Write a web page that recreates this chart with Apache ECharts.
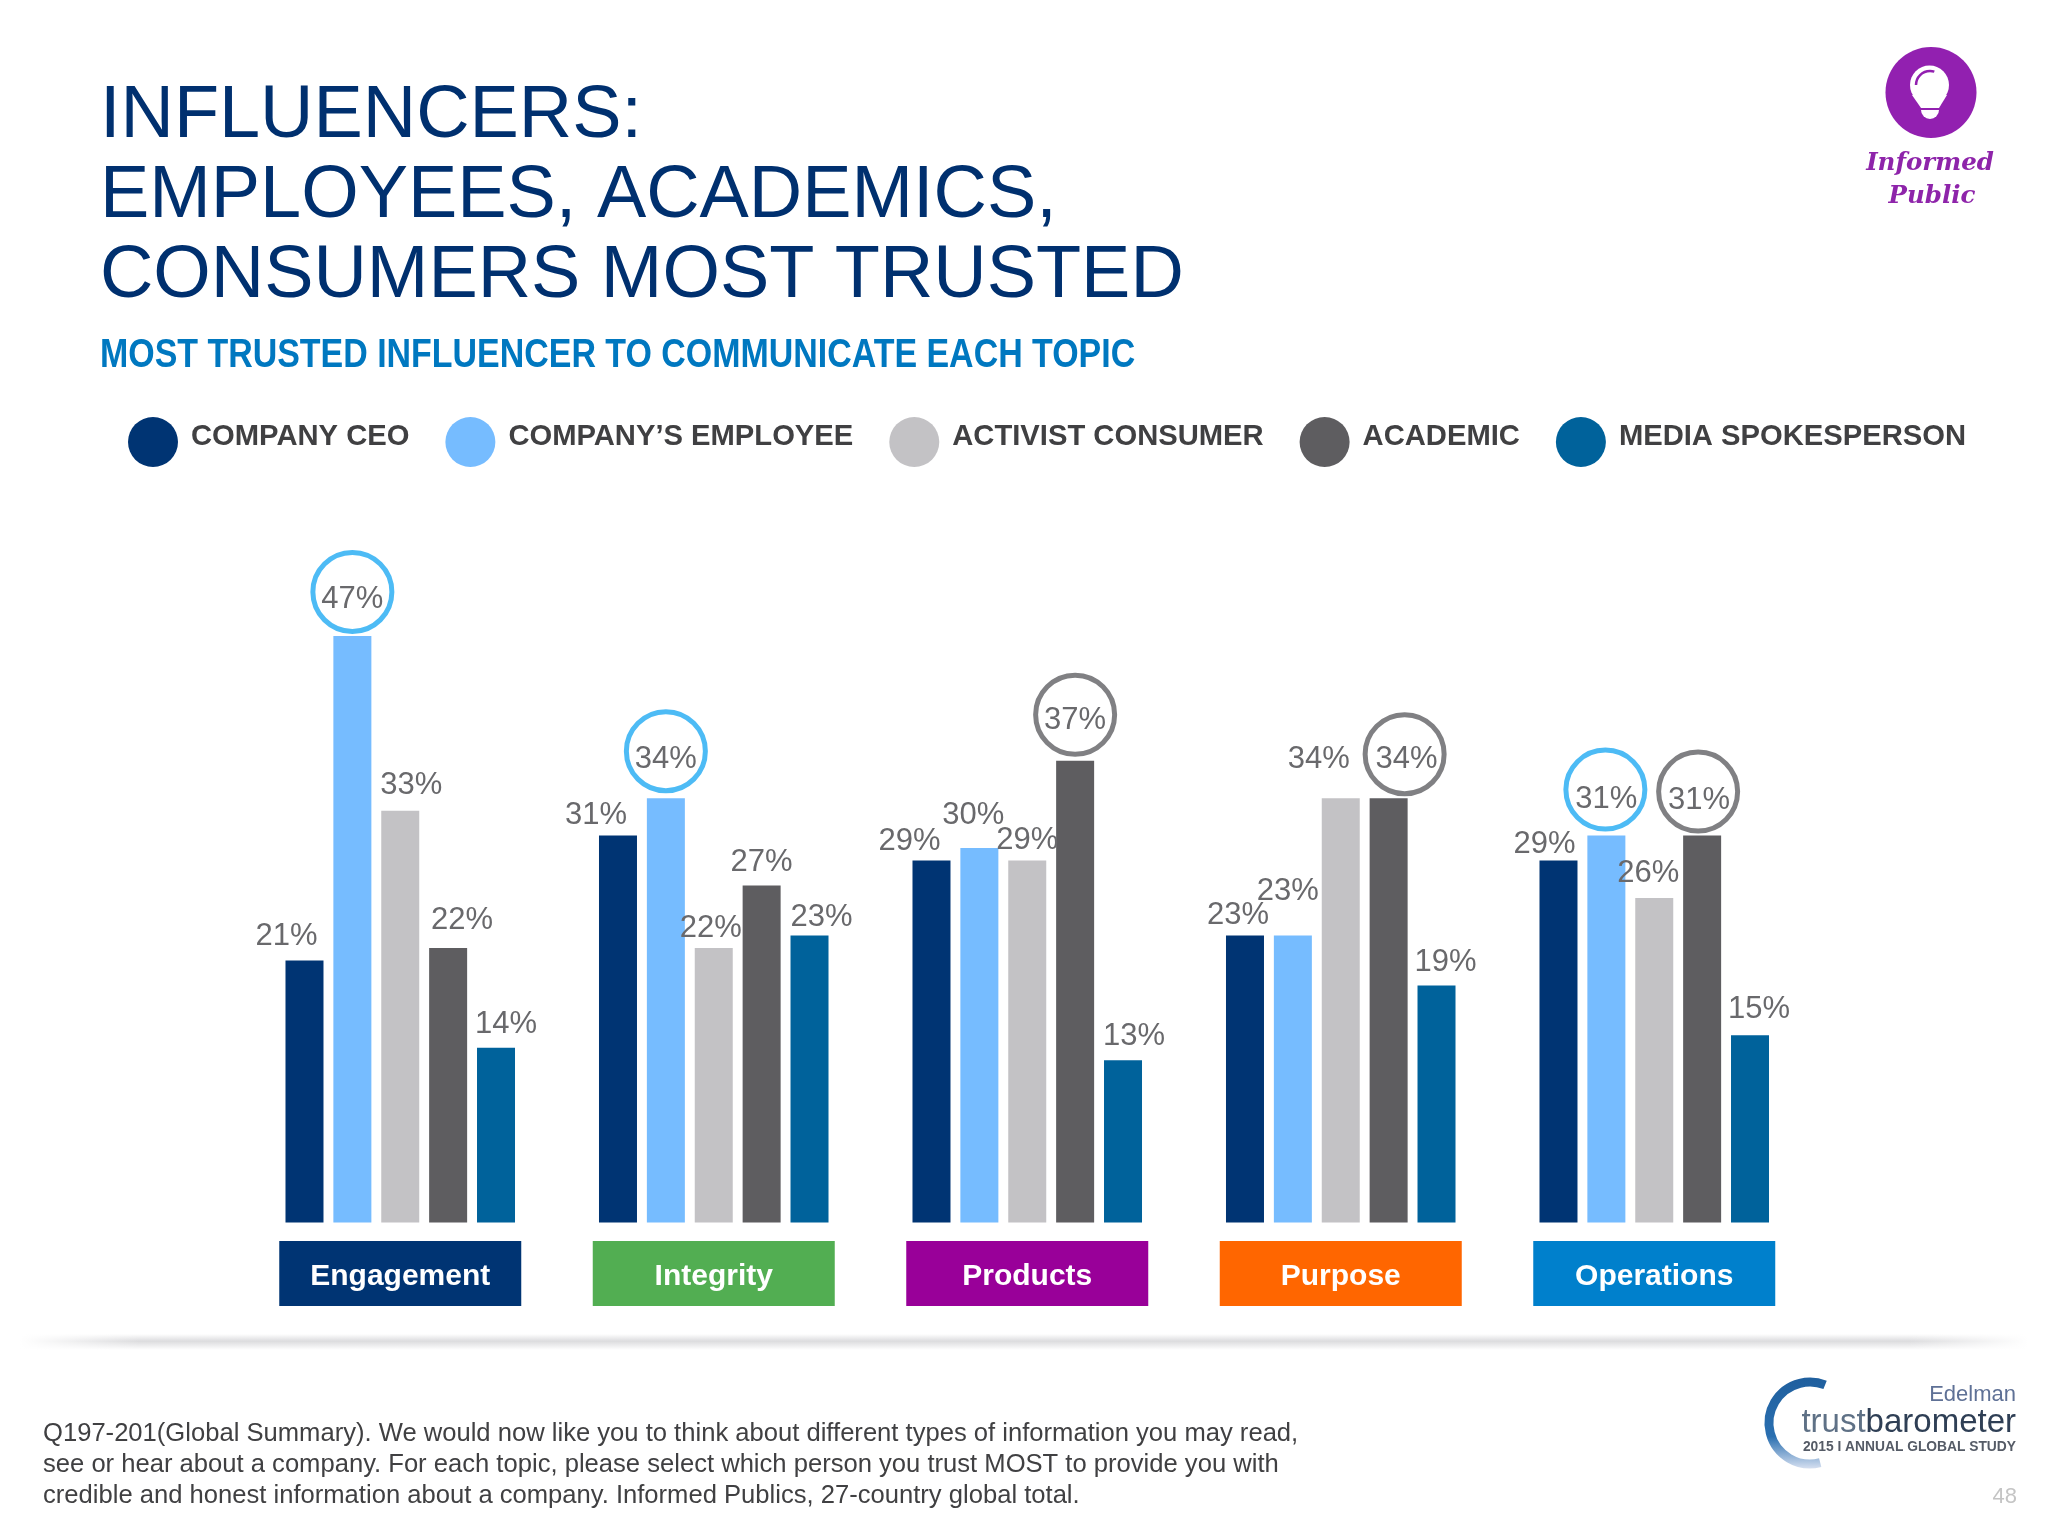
<!DOCTYPE html>
<html>
<head>
<meta charset="utf-8">
<script src="https://cdn.jsdelivr.net/npm/echarts@6/dist/echarts.min.js"></script>
<style>html,body{margin:0;padding:0;background:#fff}</style>
</head>
<body>
<div id="main" style="width:2048px;height:1536px"></div>
<script>
// values (percent)
var categories = ['Engagement', 'Integrity', 'Products', 'Purpose', 'Operations'];
var seriesNames = ['COMPANY CEO', 'COMPANY’S EMPLOYEE', 'ACTIVIST CONSUMER', 'ACADEMIC', 'MEDIA SPOKESPERSON'];
var ceo = [21, 31, 29, 23, 29];
var employee = [47, 34, 30, 23, 31];
var activist = [33, 22, 29, 34, 26];
var academic = [22, 27, 37, 34, 31];
var media = [14, 23, 13, 19, 15];

var titleLines = ['INFLUENCERS:', 'EMPLOYEES, ACADEMICS,', 'CONSUMERS MOST TRUSTED'];
var subtitle = 'MOST TRUSTED INFLUENCER TO COMMUNICATE EACH TOPIC';
var footnote = [
  'Q197-201(Global Summary). We would now like you to think about different types of information you may read,',
  'see or hear about a company. For each topic, please select which person you trust MOST to provide you with',
  'credible and honest information about a company. Informed Publics, 27-country global total.'
];

var barColors = ['#003473', '#76BCFF', '#C3C2C5', '#5E5D60', '#00629B'];
var tagColors = ['#003473', '#52AE52', '#990099', '#FF6600', '#0080CC'];
var font = '"Liberation Sans", Arial, sans-serif';

// where each value label sits relative to its bar top (the slide nudged them by hand)
var labelShift = [
  [[-18, -25], [-22, -22], [-22, -21], [-7, -22], [-14, -18]],
  [[0, -38], [0, -40], [-6, -34], [-5, -46], [0, -38]],
  [[11, -27], [-3, -21], [0, -22], [-22, -40], [-6, -26]],
  [[14, -29], [0, -25], [0, -42], [18, -40], [-3, -37]],
  [[10, -25], [12, -20], [11, -25], [9, -24], [9, -27]]
];
// highlight rings: series index, category index, offset from bar top, colour
var ringBlue = '#4DBBF5', ringGrey = '#808083';
var rings = [
  [1, 0, 0, -44, ringBlue],
  [1, 1, 0, -47, ringBlue],
  [3, 2, 0, -46, ringGrey],
  [3, 3, 16, -44, ringGrey],
  [1, 4, -1, -46, ringBlue],
  [3, 4, -4, -44, ringGrey]
];

var allValues = [ceo, employee, activist, academic, media];

var series = seriesNames.map(function (name, s) {
  return {
    name: name,
    type: 'bar',
    barWidth: 38,
    barGap: '26%',
    itemStyle: { color: barColors[s] },
    data: allValues[s].map(function (v, c) {
      return {
        value: v,
        label: { offset: [labelShift[s][c][0], labelShift[s][c][1] + 17] }
      };
    }),
    label: {
      show: true, position: 'top', distance: 0,
      formatter: '{c}%', fontFamily: font, fontSize: 31, color: '#69696C'
    },
    markPoint: {
      silent: true,
      animation: false,
      label: { show: false },
      data: rings.filter(function (r) { return r[0] === s; }).map(function (r) {
        return {
          coord: [categories[r[1]], allValues[s][r[1]]],
          symbol: 'circle',
          symbolSize: 79,
          symbolOffset: [r[2], r[3]],
          itemStyle: { color: 'rgba(255,255,255,0)', borderColor: r[4], borderWidth: 5 }
        };
      })
    }
  };
});

var rich = {};
categories.forEach(function (c, i) {
  rich['t' + i] = {
    backgroundColor: tagColors[i], color: '#fff', width: 242, height: 58, lineHeight: 58,
    padding: [7, 0, 0, 0],
    align: 'center', fontFamily: font, fontSize: 30, fontWeight: 'bold'
  };
});

var myChart = echarts.init(document.getElementById('main'));
var option = {
  backgroundColor: '#fff',
  animation: false,
  title: [
    {
      text: titleLines.join('\n'), left: 95, top: 72,
      textStyle: { fontFamily: font, fontSize: 73.9, lineHeight: 80, fontWeight: 'normal', color: '#00306F' }
    }
  ],
  legend: {
    left: 123, top: 412,
    itemWidth: 50, itemHeight: 50, itemGap: 36,
    icon: 'circle',
    selectedMode: false,
    data: seriesNames,
    formatter: '{a|{name}}',
    textStyle: {
      padding: [0, 0, 0, 8],
      rich: { a: { fontFamily: font, fontSize: 29.2, fontWeight: 'bold', color: '#404042', padding: [0, 0, 10, 0] } }
    }
  },
  grid: { left: 243.5, width: 1567.5, top: 598.5, height: 624 },
  xAxis: {
    type: 'category',
    data: categories,
    axisLine: { show: false },
    axisTick: { show: false },
    axisLabel: {
      interval: 0, margin: 22,
      formatter: function (v) { return '{t' + categories.indexOf(v) + '|' + v + '}'; },
      rich: rich
    }
  },
  yAxis: { type: 'value', min: 0, max: 50, show: false },
  series: series,
  graphic: [
    // condensed bold subtitle, no narrow face is installed so squeeze it
    { type: 'text', x: 100, y: 355.5, scaleX: 0.82, z: 5,
      style: { text: subtitle, verticalAlign: 'middle', fontFamily: font, fontSize: 41.4, fontWeight: 'bold', fill: '#0078C0' } },
    // divider shadow above the footnote
    { type: 'rect', z: 1, shape: { x: 20, y: 1334, width: 2008, height: 16 },
      style: { fill: new echarts.graphic.LinearGradient(0, 0, 0, 1, [
        { offset: 0, color: '#ffffff' }, { offset: 0.45, color: '#dcdcde' }, { offset: 1, color: '#ffffff' }]) } },
    { type: 'rect', z: 2, shape: { x: 20, y: 1330, width: 120, height: 24 },
      style: { fill: new echarts.graphic.LinearGradient(0, 0, 1, 0, [
        { offset: 0, color: 'rgba(255,255,255,1)' }, { offset: 1, color: 'rgba(255,255,255,0)' }]) } },
    { type: 'rect', z: 2, shape: { x: 1908, y: 1330, width: 120, height: 24 },
      style: { fill: new echarts.graphic.LinearGradient(0, 0, 1, 0, [
        { offset: 0, color: 'rgba(255,255,255,0)' }, { offset: 1, color: 'rgba(255,255,255,1)' }]) } },
    { type: 'text', x: 43, y: 1418.5, z: 5,
      style: { text: footnote.join('\n'), fontFamily: font, fontSize: 25.6, lineHeight: 31, fill: '#404042' } },
    // Informed Public badge
    { type: 'circle', z: 5, shape: { cx: 1931, cy: 92.5, r: 45.5 }, style: { fill: '#9220B0' } },
    { type: 'circle', z: 6, shape: { cx: 1929.5, cy: 85, r: 19.5 }, style: { fill: '#fff' } },
    { type: 'polygon', z: 6, shape: { points: [[1912, 95], [1947, 95], [1939, 108], [1921, 108]] }, style: { fill: '#fff' } },
    { type: 'sector', z: 6, shape: { cx: 1930, cy: 110, r0: 0, r: 9, startAngle: 0, endAngle: Math.PI }, style: { fill: '#fff' } },
    { type: 'arc', z: 7, shape: { cx: 1930, cy: 85, r: 14, startAngle: Math.PI * 1.0, endAngle: Math.PI * 1.6, clockwise: true },
      style: { fill: 'none', stroke: '#9220B0', lineWidth: 2.5 } },
    { type: 'text', z: 5, x: 1930, y: 163.5,
      style: { text: 'Informed', align: 'center', verticalAlign: 'middle', fontFamily: '"DejaVu Serif", serif', fontStyle: 'italic', fontWeight: 'bold', fontSize: 24.5, fill: '#8E24AA' } },
    { type: 'text', z: 5, x: 1932, y: 196.5,
      style: { text: 'Public', align: 'center', verticalAlign: 'middle', fontFamily: '"DejaVu Serif", serif', fontStyle: 'italic', fontWeight: 'bold', fontSize: 24.5, fill: '#8E24AA' } },
    // trustbarometer logo
    { type: 'arc', z: 5, shape: { cx: 1810, cy: 1423, r: 41, startAngle: Math.PI * 0.42, endAngle: Math.PI * 1.62, clockwise: true },
      style: { fill: 'none', lineWidth: 9, stroke: new echarts.graphic.LinearGradient(0, 0, 0, 1, [
        { offset: 0, color: '#1F5F9E' }, { offset: 0.65, color: '#2A6FB0' }, { offset: 1, color: '#D5DFF0' }]) } },
    { type: 'text', z: 6, x: 2016, y: 1395,
      style: { text: 'Edelman', align: 'right', verticalAlign: 'middle', fontFamily: font, fontSize: 22, fill: '#5F7196' } },
    { type: 'text', z: 6, x: 2016, y: 1423,
      style: { rich: { a: { fontFamily: font, fontSize: 33, fill: '#5F7186', fontWeight: 'normal' }, b: { fontFamily: font, fontSize: 33, fill: '#2F3F55' } },
        text: '{a|trust}{b|barometer}', align: 'right', verticalAlign: 'middle', fontFamily: font, fontSize: 33, fill: '#2F3F55' } },
    { type: 'text', z: 6, x: 2016, y: 1447,
      style: { text: '2015 I ANNUAL GLOBAL STUDY', align: 'right', verticalAlign: 'middle', fontFamily: font, fontSize: 13.8, fontWeight: 'bold', fill: '#555B66' } },
    { type: 'text', z: 6, x: 2017, y: 1497,
      style: { text: '48', align: 'right', verticalAlign: 'middle', fontFamily: font, fontSize: 22, fill: '#C4C4C4' } }
  ]
};
myChart.setOption(option);
</script>
</body>
</html>
